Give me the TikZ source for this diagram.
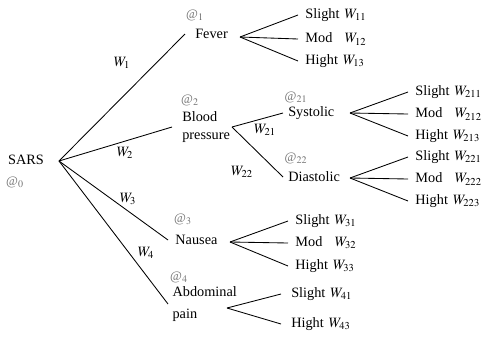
\documentclass[tikz,border=0pt]{standalone}
\usepackage{mathptmx}
\usepackage{fontspec}
\setmainfont{Liberation Serif}
\begin{document}
\begin{tikzpicture}[x=0.7pt,y=-0.7pt,
  every node/.style={font=\fontsize{10}{13}\selectfont, inner ysep=0pt},
  cat/.style={anchor=west, align=left},
  leaf/.style={anchor=west, inner xsep=5pt},
  wlab/.style={inner sep=0pt},
  atlab/.style={inner sep=0pt, text=black!55, font=\small},
  branch/.style={line width=0.6pt}]
\useasboundingbox (0,0) rectangle (485,337);

% root
\node[inner sep=0pt] (sars) at (26,160) {SARS};
\coordinate (root) at (59,161);
\node[atlab] (a0) at (15,182) {@$_0$};

% level 1
\node[cat, inner xsep=7pt] (fever) at (185,34) {Fever};
\node[cat, inner xsep=7pt] (blood) at (172,127) {Blood\\pressure};
\node[cat, inner xsep=5pt] (nausea) at (168,240) {Nausea};
\node[cat, inner xsep=3pt, font=\fontsize{10}{15.5}\selectfont] (abd) at (168,304) {Abdominal\\pain};

\node[atlab] (a1) at (195,15) {@$_1$};
\node[atlab] (a2) at (190,100) {@$_2$};
\node[atlab] (a3) at (183,219) {@$_3$};
\node[atlab] (a4) at (179,277) {@$_4$};

\draw[branch] (root) -- (fever.west);
\draw[branch] (root) -- (blood.west);
\draw[branch] (root) -- (nausea.west);
\draw[branch] (root) -- (abd.west);

\node[wlab] (w1) at (122,63) {$W_1$};
\node[wlab] (w2) at (125,153) {$W_2$};
\node[wlab] (w3) at (128,199) {$W_3$};
\node[wlab] (w4) at (146,253) {$W_4$};

% level 2 under blood pressure
\coordinate (bp) at (232,127);
\node[cat, inner xsep=3.5pt] (sys) at (283,113) {Systolic};
\node[cat, inner xsep=3.5pt] (dia) at (283,177) {Diastolic};
\node[atlab] (a21) at (296,97) {@$_{21}$};
\node[atlab] (a22) at (296,158) {@$_{22}$};
\draw[branch] (bp) -- (sys.west);
\draw[branch] (bp) -- (dia.west);
\node[wlab] (w21) at (265,130) {$W_{21}$};
\node[wlab] (w22) at (242,172) {$W_{22}$};

% fever leaves
\coordinate (fv) at (240,37);
\node[leaf] (f1) at (298,15) {Slight\hspace{1pt} $W_{11}$};
\node[leaf] (f2) at (298,39) {\makebox[27.5pt][l]{Mod}$W_{12}$};
\node[leaf] (f3) at (298,61) {Hight\hspace{1pt} $W_{13}$};
\draw[branch] (fv) -- (f1.west);
\draw[branch] (fv) -- (f2.west);
\draw[branch] (fv) -- (f3.west);

% systolic leaves
\coordinate (sy) at (350,113);
\node[leaf] (s1) at (408,92) {Slight\hspace{1pt} $W_{211}$};
\node[leaf] (s2) at (408,114) {\makebox[27.5pt][l]{Mod}$W_{212}$};
\node[leaf] (s3) at (408,136) {Hight\hspace{1pt} $W_{213}$};
\draw[branch] (sy) -- (s1.west);
\draw[branch] (sy) -- (s2.west);
\draw[branch] (sy) -- (s3.west);

% diastolic leaves
\coordinate (dy) at (350,178);
\node[leaf] (d1) at (408,157) {Slight\hspace{1pt} $W_{221}$};
\node[leaf] (d2) at (408,179) {\makebox[27.5pt][l]{Mod}$W_{222}$};
\node[leaf] (d3) at (408,201) {Hight\hspace{1pt} $W_{223}$};
\draw[branch] (dy) -- (d1.west);
\draw[branch] (dy) -- (d2.west);
\draw[branch] (dy) -- (d3.west);

% nausea leaves
\coordinate (ny) at (230,242);
\node[leaf] (n1) at (288,221) {Slight\hspace{1pt} $W_{31}$};
\node[leaf] (n2) at (288,243) {\makebox[27.5pt][l]{Mod}$W_{32}$};
\node[leaf] (n3) at (288,266) {Hight\hspace{1pt} $W_{33}$};
\draw[branch] (ny) -- (n1.west);
\draw[branch] (ny) -- (n2.west);
\draw[branch] (ny) -- (n3.west);

% abdominal leaves
\coordinate (ay) at (227,308);
\node[leaf, inner xsep=7pt] (p1) at (281,294) {Slight\hspace{1pt} $W_{41}$};
\node[leaf, inner xsep=7pt] (p3) at (281,324) {Hight\hspace{1pt} $W_{43}$};
\draw[branch] (ay) -- (p1.west);
\draw[branch] (ay) -- (p3.west);
\end{tikzpicture}
\end{document}
